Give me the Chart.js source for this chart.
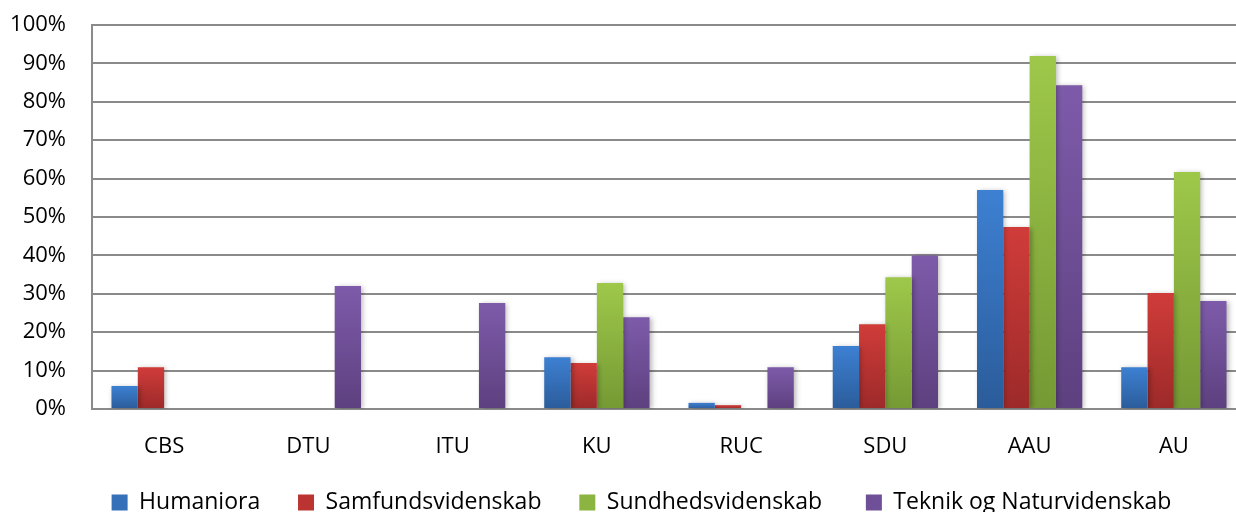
<!DOCTYPE html>
<html>
<head>
<meta charset="utf-8">
<script src="https://cdn.jsdelivr.net/npm/chart.js@4/dist/chart.umd.min.js"></script>
<style>
  html, body { margin: 0; padding: 0; background: #fff; overflow: hidden; }
  #wrap { width: 1246px; height: 512px; }
</style>
</head>
<body>
<div id="wrap"><canvas id="c" width="1246" height="512"></canvas></div>
<script>
const categories = ['CBS', 'DTU', 'ITU', 'KU', 'RUC', 'SDU', 'AAU', 'AU'];
const seriesNames = ['Humaniora', 'Samfundsvidenskab', 'Sundhedsvidenskab', 'Teknik og Naturvidenskab'];
const humaniora = [6.0, 0, 0, 13.5, 1.6, 16.4, 57.0, 10.9];
const samfundsvidenskab = [10.9, 0, 0, 12.0, 1.0, 22.1, 47.4, 30.2];
const sundhedsvidenskab = [0, 0, 0, 32.8, 0, 34.3, 91.9, 61.7];
const teknikNatur = [0, 32.0, 27.6, 23.9, 10.9, 40.0, 84.3, 28.1];
const yTicks = [0, 10, 20, 30, 40, 50, 60, 70, 80, 90, 100];

const palette = [
  { top: '#3D80D2', bottom: '#2B5C9A', mid: '#3670B8' },
  { top: '#D03C3A', bottom: '#9C2A29', mid: '#BC3432' },
  { top: '#9EC84A', bottom: '#759934', mid: '#8CB440' },
  { top: '#7E5BAA', bottom: '#5D407F', mid: '#6F4F98' }
];

function barGradient(idx) {
  return function(ctx) {
    const chart = ctx.chart;
    const y = chart.scales && chart.scales.y;
    if (!y || ctx.raw === undefined || !chart.chartArea) return palette[idx].mid;
    const topPx = y.getPixelForValue(ctx.raw);
    const basePx = y.getPixelForValue(0);
    if (Math.abs(basePx - topPx) < 1) return palette[idx].mid;
    const g = chart.ctx.createLinearGradient(0, topPx, 0, basePx);
    g.addColorStop(0, palette[idx].top);
    g.addColorStop(1, palette[idx].bottom);
    return g;
  };
}

const seriesData = [humaniora, samfundsvidenskab, sundhedsvidenskab, teknikNatur];
const datasets = seriesNames.map((name, i) => ({
  label: name,
  data: seriesData[i],
  backgroundColor: barGradient(i),
  borderWidth: 0,
  categoryPercentage: 0.73,
  barPercentage: 1.0
}));

const shadowPlugin = {
  id: 'barShadow',
  beforeDatasetsDraw(chart) {
    const c = chart.ctx;
    c.save();
    c.shadowColor = 'rgba(0,0,0,0.28)';
    c.shadowBlur = 5;
    c.shadowOffsetX = 2;
    c.shadowOffsetY = 1;
  },
  afterDatasetsDraw(chart) {
    chart.ctx.restore();
  }
};

const legendPlacePlugin = {
  id: 'legendPlace',
  afterLayout(chart) {
    const lg = chart.legend;
    if (!lg) return;
    const h = lg.height;
    lg.top = 489;
    lg.bottom = 489 + h;
    lg.left += 18.5;
    lg.right += 18.5;
  }
};

const FONT = "'Open Sans', 'Liberation Sans', sans-serif";
const legendGaps = ['      ', '      ', '       ', ''];

new Chart(document.getElementById('c'), {
  type: 'bar',
  data: { labels: categories, datasets: datasets },
  plugins: [shadowPlugin, legendPlacePlugin],
  options: {
    responsive: false,
    animation: false,
    devicePixelRatio: 1,
    layout: { padding: { left: 0, right: 0, top: 25, bottom: 0 } },
    plugins: {
      tooltip: { enabled: false },
      legend: {
        position: 'bottom',
        labels: {
          font: { family: FONT, size: 23 },
          color: '#000',
          boxWidth: 16,
          boxHeight: 16,
          padding: 2,
          generateLabels(chart) {
            return chart.data.datasets.map((ds, i) => ({
              text: ds.label + legendGaps[i],
              fillStyle: palette[i].mid,
              strokeStyle: palette[i].mid,
              lineWidth: 0,
              hidden: false,
              datasetIndex: i
            }));
          }
        }
      }
    },
    scales: {
      x: {
        grid: { display: false, drawTicks: false },
        border: { display: true, color: '#8a8a8a', width: 2 },
        ticks: { font: { family: FONT, size: 22 }, color: '#000', padding: 25 },
        afterFit(scale) {
          const lh = scale.chart.legend ? scale.chart.legend.height : 34;
          scale.height = 512 - 409 - lh;
        }
      },
      y: {
        min: 0,
        max: 100,
        afterBuildTicks(scale) { scale.ticks = yTicks.map(v => ({ value: v })); },
        grid: { color: '#8a8a8a', lineWidth: 2, drawTicks: false },
        border: { display: true, color: '#8a8a8a', width: 2 },
        ticks: {
          font: { family: FONT, size: 22 },
          color: '#000',
          padding: 26,
          callback: v => v + '%'
        },
        afterFit(scale) {
          scale.width = 92;
          scale.paddingTop = 0;
          scale.paddingBottom = 0;
        }
      }
    }
  }
});
</script>
</body>
</html>
